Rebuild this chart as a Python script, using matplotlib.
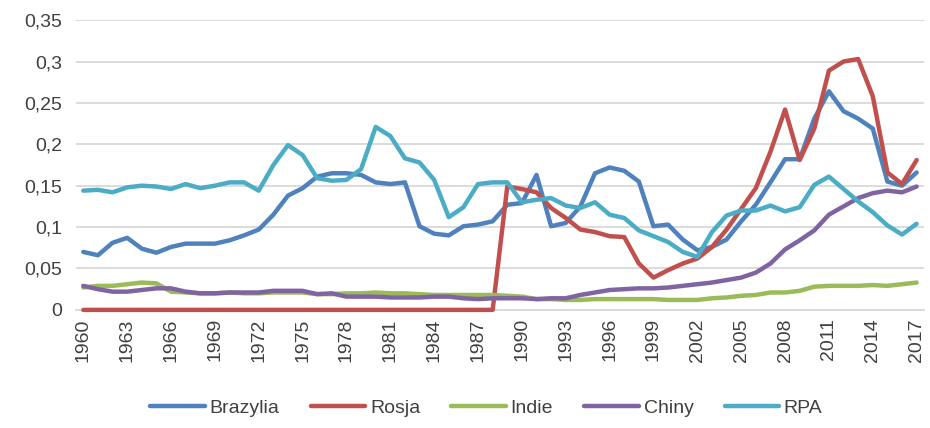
import matplotlib.pyplot as plt
from matplotlib.ticker import FuncFormatter

lata = list(range(1960, 2018))

brazylia = [0.070, 0.066, 0.081, 0.087, 0.074, 0.069, 0.076, 0.080, 0.080, 0.080,
            0.084, 0.090, 0.097, 0.115, 0.138, 0.147, 0.161, 0.165, 0.165, 0.163,
            0.154, 0.152, 0.154, 0.101, 0.092, 0.090, 0.101, 0.103, 0.107, 0.127,
            0.129, 0.163, 0.101, 0.105, 0.125, 0.165, 0.172, 0.168, 0.155, 0.101,
            0.103, 0.085, 0.072, 0.076, 0.085, 0.107, 0.127, 0.154, 0.182, 0.182,
            0.231, 0.264, 0.240, 0.231, 0.219, 0.155, 0.150, 0.166]

rosja = [0.0] * 29 + [0.149, 0.146, 0.142, 0.123, 0.111, 0.097, 0.094, 0.089, 0.088,
                      0.056, 0.039, 0.048, 0.056, 0.062, 0.076, 0.097, 0.122, 0.147,
                      0.191, 0.242, 0.181, 0.219, 0.289, 0.300, 0.303, 0.258, 0.166,
                      0.152, 0.181]

indie = [0.027, 0.029, 0.029, 0.031, 0.033, 0.032, 0.022, 0.021, 0.020, 0.020,
         0.021, 0.020, 0.020, 0.021, 0.021, 0.021, 0.019, 0.019, 0.020, 0.020,
         0.021, 0.020, 0.020, 0.019, 0.018, 0.018, 0.018, 0.018, 0.018, 0.017,
         0.016, 0.013, 0.013, 0.012, 0.012, 0.013, 0.013, 0.013, 0.013, 0.013,
         0.012, 0.012, 0.012, 0.014, 0.015, 0.017, 0.018, 0.021, 0.021, 0.023,
         0.028, 0.029, 0.029, 0.029, 0.030, 0.029, 0.031, 0.033]

chiny = [0.029, 0.025, 0.022, 0.022, 0.024, 0.026, 0.026, 0.022, 0.020, 0.020,
         0.021, 0.021, 0.021, 0.023, 0.023, 0.023, 0.019, 0.020, 0.016, 0.016,
         0.016, 0.015, 0.015, 0.015, 0.016, 0.016, 0.014, 0.013, 0.014, 0.014,
         0.014, 0.013, 0.014, 0.014, 0.018, 0.021, 0.024, 0.025, 0.026, 0.026,
         0.027, 0.029, 0.031, 0.033, 0.036, 0.039, 0.045, 0.056, 0.073, 0.084,
         0.096, 0.115, 0.125, 0.135, 0.141, 0.144, 0.142, 0.149]

rpa = [0.144, 0.145, 0.142, 0.148, 0.150, 0.149, 0.146, 0.152, 0.147, 0.150,
       0.154, 0.154, 0.144, 0.175, 0.199, 0.187, 0.159, 0.156, 0.157, 0.170,
       0.221, 0.210, 0.183, 0.178, 0.157, 0.112, 0.124, 0.152, 0.154, 0.154,
       0.130, 0.133, 0.135, 0.126, 0.123, 0.130, 0.115, 0.111, 0.096, 0.089,
       0.082, 0.070, 0.064, 0.094, 0.114, 0.120, 0.120, 0.126, 0.119, 0.124,
       0.151, 0.161, 0.146, 0.131, 0.118, 0.102, 0.091, 0.104]

serie = [
    ("Brazylia", brazylia, "#4F81BD"),
    ("Rosja", rosja, "#C0504D"),
    ("Indie", indie, "#9BBB59"),
    ("Chiny", chiny, "#8064A2"),
    ("RPA", rpa, "#4BACC6"),
]

plt.rcParams['font.family'] = ['Liberation Sans', 'DejaVu Sans']

fig = plt.figure(figsize=(9.3, 4.28), dpi=100)
ax = fig.add_axes([0.0817, 0.276, 0.9118, 0.677])

for nazwa, wartosci, kolor in serie:
    # clip_on=False so the zero stretch of Rosja keeps its full width
    ax.plot(lata, wartosci, color=kolor, linewidth=3.2, label=nazwa,
            solid_capstyle='round', solid_joinstyle='round', clip_on=False)

ax.set_xlim(1959.5, 2017.5)
ax.set_ylim(0, 0.35)
ax.set_yticks([0, 0.05, 0.1, 0.15, 0.2, 0.25, 0.3, 0.35])
ax.yaxis.set_major_formatter(FuncFormatter(lambda v, p: ('%g' % round(v, 2)).replace('.', ',')))
ax.set_xticks(lata[::3])
ax.set_xticklabels([str(r) for r in lata[::3]], rotation=90)

ax.grid(axis='y', color='#D9D9D9', linewidth=1.3)
ax.set_axisbelow(True)
for s in ['top', 'right', 'left']:
    ax.spines[s].set_visible(False)
ax.spines['bottom'].set_color('#D9D9D9')
ax.spines['bottom'].set_linewidth(1.3)
ax.spines['bottom'].set_zorder(0.5)
ax.tick_params(axis='y', length=0, pad=10, labelsize=14, labelcolor='#404040')
ax.tick_params(axis='x', length=0, pad=6, labelsize=14, labelcolor='#404040')

fig.legend(loc='center', bbox_to_anchor=(0.523, 0.047), ncol=5, frameon=False,
           fontsize=14, handlelength=2.8, handletextpad=0.25, columnspacing=1.6,
           labelcolor='#404040')

fig.savefig('out.png', dpi=100)
